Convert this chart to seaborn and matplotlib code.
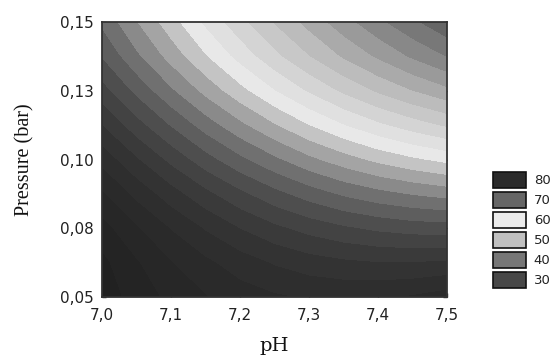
import matplotlib
matplotlib.use("Agg")
import matplotlib.pyplot as plt
from matplotlib.colors import ListedColormap, BoundaryNorm
from matplotlib.patches import Patch
import numpy as np
import seaborn as sns

# response surface (pH across, pressure up)
ph = [7.0, 7.05, 7.1, 7.15, 7.2, 7.25, 7.3, 7.35, 7.4, 7.45, 7.5]
pressure = [0.05, 0.0625, 0.075, 0.0875, 0.10, 0.1125, 0.125, 0.1375, 0.15]
z_p050 = [96.4, 93.9, 91.8, 90.1, 88.7, 87.8, 87.2, 87.0, 87.2, 87.7, 88.7]
z_p062 = [95.6, 92.7, 90.1, 88.0, 86.2, 84.7, 83.6, 82.9, 82.5, 82.5, 82.8]
z_p075 = [93.4, 90.2, 87.3, 84.7, 82.4, 80.5, 79.0, 77.8, 76.9, 76.3, 76.1]
z_p088 = [90.3, 86.7, 83.5, 80.6, 78.0, 75.7, 73.7, 72.0, 70.7, 69.7, 68.9]
z_p100 = [86.5, 82.7, 79.2, 75.9, 73.0, 70.4, 68.0, 66.0, 64.2, 62.8, 61.6]
z_p112 = [82.4, 78.4, 74.7, 71.2, 68.0, 65.1, 62.4, 60.0, 57.9, 56.1, 54.5]
z_p125 = [78.4, 74.2, 70.3, 66.6, 63.2, 60.0, 57.1, 54.4, 52.0, 49.9, 48.0]
z_p138 = [74.7, 70.4, 66.4, 62.6, 59.0, 55.6, 52.5, 49.6, 47.0, 44.5, 42.3]
z_p150 = [71.8, 67.5, 63.4, 59.4, 55.7, 52.2, 49.0, 45.9, 43.0, 40.4, 37.9]

legend_vals = ["80", "70", "60", "50", "40", "30"]

Z = np.array([z_p050, z_p062, z_p075, z_p088, z_p100,
              z_p112, z_p125, z_p138, z_p150])

# contour bands every 2.5 units, one grey per band
levels = np.arange(32.5, 102.5, 2.5)
greys = ["#4e", "#58", "#66", "#78", "#88", "#9a", "#aa", "#bc", "#c8",
         "#d4", "#e0", "#e8", "#c4", "#a4", "#8a", "#70", "#5e", "#4e",
         "#43", "#3a", "#33", "#2e", "#2a", "#27", "#24", "#21", "#1f"]
cmap = ListedColormap([g + g[1:] + g[1:] for g in greys])
norm = BoundaryNorm(levels, cmap.N)

sns.set_style("white")

fig = plt.figure(figsize=(5.55, 3.58), dpi=100)
ax = fig.add_axes([0.1838, 0.1704, 0.6216, 0.7681])
ax.contourf(ph, pressure, Z, levels=levels, cmap=cmap, norm=norm)

ax.set_xlim(7.0, 7.5)
ax.set_ylim(0.05, 0.15)
ax.set_xticks([7.0, 7.1, 7.2, 7.3, 7.4, 7.5])
ax.set_xticklabels(["7,0", "7,1", "7,2", "7,3", "7,4", "7,5"])
ax.set_yticks([0.05, 0.075, 0.10, 0.125, 0.15])
ax.set_yticklabels(["0,05", "0,08", "0,10", "0,13", "0,15"])
ax.tick_params(direction="in", length=3, width=1, color="#222222",
               labelsize=11, labelcolor="#222222", right=True, left=True,
               bottom=True, top=False)
ax.tick_params(axis="x", pad=8)
ax.tick_params(axis="y", pad=6)
for lab in ax.get_xticklabels() + ax.get_yticklabels():
    lab.set_family("DejaVu Sans")

# top ticks sit at quarter steps in the original
top = ax.secondary_xaxis("top")
top.set_xticks([7.125, 7.25, 7.375])
top.tick_params(direction="in", length=3, width=1, color="#222222", labeltop=False)
top.spines["top"].set_visible(False)

for s in ax.spines.values():
    s.set_color("#333333")
    s.set_linewidth(1.3)
    s.set_visible(True)

ax.set_xlabel("pH", family="DejaVu Serif", fontsize=14, color="#111111", labelpad=10)
ax.set_ylabel("Pressure (bar)", family="Liberation Serif", fontsize=14.5,
              color="#111111", labelpad=18)

legend_cols = ["#2b2b2b", "#666666", "#ececec", "#c0c0c0", "#777777", "#484848"]
handles = [Patch(facecolor=c, edgecolor="#111111", linewidth=1.2) for c in legend_cols]
leg = fig.legend(handles, legend_vals, loc="center left", bbox_to_anchor=(0.888, 0.3575),
                 frameon=False, fontsize=9.5, handlelength=2.5, handleheight=1.45,
                 labelspacing=0.33, handletextpad=0.6, borderpad=0, borderaxespad=0)
for t in leg.get_texts():
    t.set_family("DejaVu Sans")
    t.set_color("#222222")

fig.savefig("out.png", dpi=100)
